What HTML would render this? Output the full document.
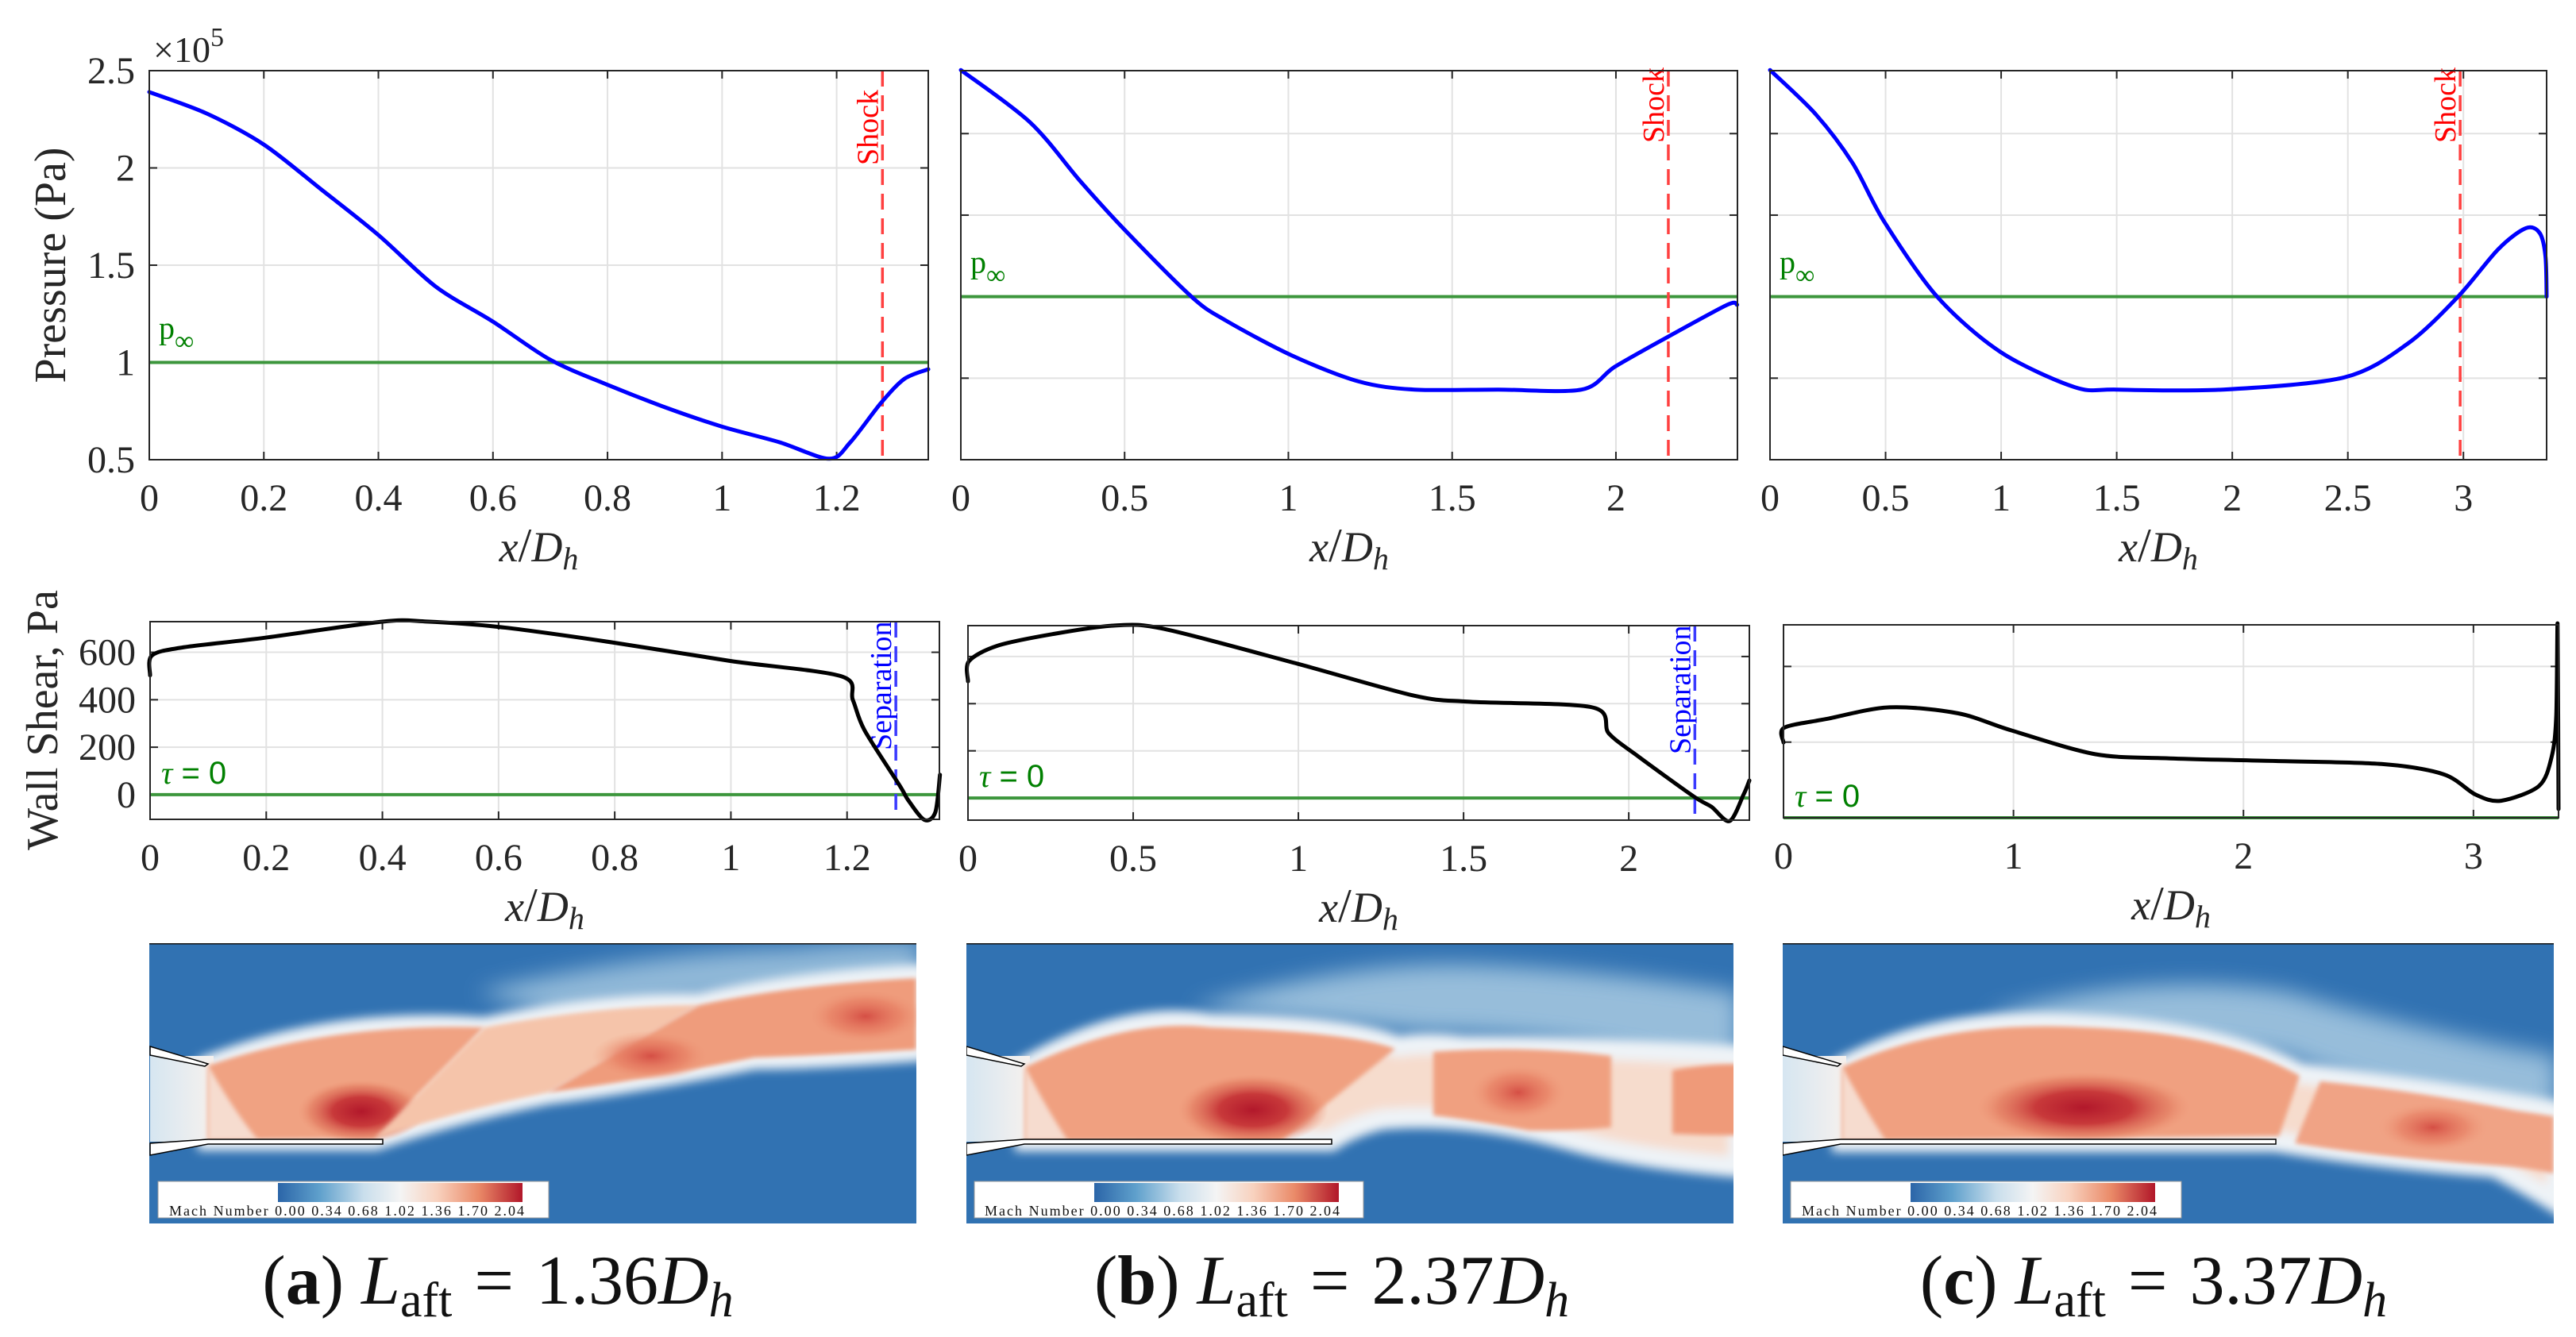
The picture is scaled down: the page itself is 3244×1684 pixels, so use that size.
<!DOCTYPE html>
<html><head><meta charset="utf-8">
<style>
html,body{margin:0;padding:0;background:#fff;}
svg{display:block;}
text{font-family:"Liberation Serif","DejaVu Serif",serif;}
</style></head>
<body>
<svg id="fig" xmlns="http://www.w3.org/2000/svg" width="3244" height="1684" viewBox="0 0 3244 1684" font-family="Liberation Serif, DejaVu Serif, serif">
<defs>
  <linearGradient id="cbar" x1="0" x2="1" y1="0" y2="0">
    <stop offset="0" stop-color="#2b65a8"/>
    <stop offset="0.17" stop-color="#5fa0cc"/>
    <stop offset="0.35" stop-color="#c9deec"/>
    <stop offset="0.5" stop-color="#f4f4f4"/>
    <stop offset="0.65" stop-color="#f8d2bf"/>
    <stop offset="0.82" stop-color="#ea8a68"/>
    <stop offset="1" stop-color="#b11729"/>
  </linearGradient>
  <radialGradient id="hot" cx="0.5" cy="0.5" r="0.5">
    <stop offset="0" stop-color="#b2182b"/>
    <stop offset="0.45" stop-color="#c8393a"/>
    <stop offset="0.8" stop-color="#e0755b" stop-opacity="0.6"/>
    <stop offset="1" stop-color="#ee9475" stop-opacity="0"/>
  </radialGradient>
  <radialGradient id="warm" cx="0.5" cy="0.5" r="0.5">
    <stop offset="0" stop-color="#d54f45"/>
    <stop offset="0.6" stop-color="#e67a5f" stop-opacity="0.6"/>
    <stop offset="1" stop-color="#f0a080" stop-opacity="0"/>
  </radialGradient>
  <linearGradient id="core" x1="0" x2="1" y1="0" y2="0">
    <stop offset="0" stop-color="#d6e6f1"/>
    <stop offset="1" stop-color="#f6f1ee"/>
  </linearGradient>
  <filter id="blurBig" x="-20%" y="-30%" width="140%" height="160%"><feGaussianBlur stdDeviation="14"/></filter>
  <filter id="blurMid" x="-20%" y="-30%" width="140%" height="160%"><feGaussianBlur stdDeviation="6"/></filter>
  <filter id="blurSm" x="-10%" y="-10%" width="120%" height="120%"><feGaussianBlur stdDeviation="3"/></filter>
  <clipPath id="clipA"><rect x="188" y="1188" width="966" height="353"/></clipPath>
  <clipPath id="clipB"><rect x="1217" y="1188" width="966" height="353"/></clipPath>
  <clipPath id="clipC"><rect x="2245" y="1188" width="971" height="353"/></clipPath>
</defs>

<!-- ===== Contour a ===== -->
<g clip-path="url(#clipA)">
  <rect x="188" y="1186" width="966" height="355" fill="#3172b2"/>
  <path d="M600,1250 Q800,1200 1000,1195 Q1080,1186 1160,1186 L1160,1250 Q900,1250 700,1280 Z" fill="#a9cbe2" opacity="0.8" filter="url(#blurBig)"/>
  <path d="M262,1342 Q420,1280 610,1294 Q760,1262 880,1264 Q1000,1236 1154,1228 L1154,1324 Q1020,1334 950,1334 Q800,1364 690,1378 Q580,1400 472,1436 L262,1436 Z" fill="#f4e2d8" stroke="#eef3f7" stroke-width="26" filter="url(#blurMid)"/>
  <rect x="189" y="1330" width="80" height="108" fill="url(#core)"/>
  <path d="M262,1342 Q420,1288 610,1294 L472,1434 L262,1436 Z" fill="#f0a282" filter="url(#blurSm)"/>
  <path d="M262,1342 Q295,1400 325,1436 L262,1436 Z" fill="#f6dccf" filter="url(#blurSm)"/>
  <ellipse cx="455" cy="1400" rx="80" ry="40" fill="url(#hot)"/>
  <path d="M610,1294 Q760,1266 880,1266 L690,1376 Q580,1398 472,1434 Z" fill="#f5c4aa" filter="url(#blurSm)"/>
  <path d="M880,1266 Q1000,1240 1154,1232 L1154,1322 Q1020,1330 950,1332 Q800,1362 690,1376 Z" fill="#ef9c7c" filter="url(#blurSm)"/>
  <ellipse cx="820" cy="1330" rx="75" ry="32" fill="url(#warm)"/>
  <ellipse cx="1090" cy="1280" rx="75" ry="35" fill="url(#warm)"/>
  <polygon points="189,1318 189,1329 258,1343 262,1340" fill="#fff" stroke="#000" stroke-width="1.5"/>
  <polygon points="189,1455 189,1440 262,1435 482,1435 482,1441 262,1441" fill="#fff" stroke="#000" stroke-width="1.5"/>
  <line x1="188" y1="1188" x2="1154" y2="1188" stroke="#111" stroke-width="3"/>
</g>

<!-- ===== Contour b ===== -->
<g clip-path="url(#clipB)">
  <rect x="1217" y="1186" width="966" height="355" fill="#3172b2"/>
  <path d="M1500,1270 Q1700,1210 1850,1215 Q2000,1220 2190,1250 L2190,1360 Q2000,1300 1800,1300 Z" fill="#a9cbe2" opacity="0.85" filter="url(#blurBig)"/>
  <path d="M1291,1344 Q1420,1270 1524,1290 Q1700,1292 1760,1318 Q1800,1312 1840,1318 Q2000,1318 2190,1330 L2190,1470 Q2060,1460 1977,1436 Q1850,1400 1740,1410 Q1700,1420 1676,1437 L1291,1437 Z" fill="#f6dccd" stroke="#eef3f7" stroke-width="26" filter="url(#blurMid)"/>
  <rect x="1217" y="1330" width="80" height="108" fill="url(#core)"/>
  <path d="M1291,1344 Q1420,1282 1524,1294 Q1700,1300 1757,1321 L1614,1436 L1291,1437 Z" fill="#f0a080" filter="url(#blurSm)"/>
  <path d="M1291,1344 Q1320,1400 1345,1437 L1291,1437 Z" fill="#f6dccf" filter="url(#blurSm)"/>
  <ellipse cx="1578" cy="1398" rx="95" ry="45" fill="url(#hot)"/>
  <path d="M1805,1325 Q1920,1316 2029,1330 L2029,1420 Q1970,1425 1925,1424 Q1850,1410 1805,1405 Z" fill="#f0a080" filter="url(#blurSm)"/>
  <ellipse cx="1912" cy="1376" rx="62" ry="36" fill="url(#warm)"/>
  <path d="M2106,1348 Q2150,1340 2190,1340 L2190,1430 Q2150,1430 2106,1428 Z" fill="#ef9a79" filter="url(#blurSm)"/>
  <polygon points="1217,1318 1217,1329 1286,1343 1290,1340" fill="#fff" stroke="#000" stroke-width="1.5"/>
  <polygon points="1217,1455 1217,1440 1290,1435 1677,1435 1677,1441 1290,1441" fill="#fff" stroke="#000" stroke-width="1.5"/>
  <line x1="1217" y1="1188" x2="2182" y2="1188" stroke="#111" stroke-width="3"/>
</g>

<!-- ===== Contour c ===== -->
<g clip-path="url(#clipC)">
  <rect x="2245" y="1186" width="971" height="355" fill="#3172b2"/>
  <path d="M2500,1280 Q2700,1220 2883,1250 Q3050,1300 3220,1330 L3220,1420 Q3000,1380 2880,1330 Z" fill="#a9cbe2" opacity="0.85" filter="url(#blurBig)"/>
  <path d="M2320,1344 Q2450,1276 2624,1290 Q2800,1300 2896,1352 Q3050,1370 3220,1400 L3220,1515 Q3180,1490 3142,1470 Q3000,1460 2866,1438 L2320,1438 Z" fill="#f6dccd" stroke="#eef3f7" stroke-width="26" filter="url(#blurMid)"/>
  <rect x="2245" y="1330" width="80" height="108" fill="url(#core)"/>
  <path d="M2320,1344 Q2450,1284 2624,1294 Q2800,1300 2896,1355 L2870,1431 L2320,1437 Z" fill="#f0a080" filter="url(#blurSm)"/>
  <path d="M2320,1344 Q2350,1400 2375,1437 L2320,1437 Z" fill="#f6dccf" filter="url(#blurSm)"/>
  <ellipse cx="2624" cy="1395" rx="135" ry="45" fill="url(#hot)"/>
  <path d="M2922,1362 Q3050,1375 3168,1399 L3216,1406 L3216,1478 Q3180,1470 3142,1468 Q3000,1458 2890,1440 Z" fill="#f0a385" filter="url(#blurSm)"/>
  <ellipse cx="3064" cy="1420" rx="70" ry="32" fill="url(#warm)"/>
  <polygon points="2245,1318 2245,1329 2314,1343 2318,1340" fill="#fff" stroke="#000" stroke-width="1.5"/>
  <polygon points="2245,1455 2245,1440 2318,1435 2866,1435 2866,1441 2318,1441" fill="#fff" stroke="#000" stroke-width="1.5"/>
  <line x1="2245" y1="1188" x2="3216" y2="1188" stroke="#111" stroke-width="3"/>
</g>

<!-- legends -->
<g>
  <rect x="199" y="1488" width="492" height="46" fill="#fff" stroke="#999" stroke-width="1"/>
  <rect x="350" y="1490" width="308" height="24" fill="url(#cbar)"/>
  <text x="213" y="1531" font-family="Liberation Mono, monospace" font-size="18" textLength="447" fill="#111">Mach Number 0.00 0.34 0.68 1.02 1.36 1.70 2.04</text>
</g>
<g>
  <rect x="1227" y="1488" width="490" height="46" fill="#fff" stroke="#999" stroke-width="1"/>
  <rect x="1378" y="1490" width="308" height="24" fill="url(#cbar)"/>
  <text x="1240" y="1531" font-family="Liberation Mono, monospace" font-size="18" textLength="447" fill="#111">Mach Number 0.00 0.34 0.68 1.02 1.36 1.70 2.04</text>
</g>
<g>
  <rect x="2255" y="1488" width="492" height="46" fill="#fff" stroke="#999" stroke-width="1"/>
  <rect x="2406" y="1490" width="308" height="24" fill="url(#cbar)"/>
  <text x="2269" y="1531" font-family="Liberation Mono, monospace" font-size="18" textLength="447" fill="#111">Mach Number 0.00 0.34 0.68 1.02 1.36 1.70 2.04</text>
</g>

<!-- captions -->
<text x="627" y="1642" font-size="88" text-anchor="middle" fill="#111">(<tspan font-weight="bold">a</tspan>) <tspan font-style="italic">L</tspan><tspan font-size="62" dy="16">aft</tspan><tspan dy="-16" dx="28">=</tspan><tspan dx="28">1.36</tspan><tspan font-style="italic">D</tspan><tspan font-style="italic" font-size="62" dy="16">h</tspan></text>
<text x="1677" y="1642" font-size="88" text-anchor="middle" fill="#111">(<tspan font-weight="bold">b</tspan>) <tspan font-style="italic">L</tspan><tspan font-size="62" dy="16">aft</tspan><tspan dy="-16" dx="28">=</tspan><tspan dx="28">2.37</tspan><tspan font-style="italic">D</tspan><tspan font-style="italic" font-size="62" dy="16">h</tspan></text>
<text x="2712" y="1642" font-size="88" text-anchor="middle" fill="#111">(<tspan font-weight="bold">c</tspan>) <tspan font-style="italic">L</tspan><tspan font-size="62" dy="16">aft</tspan><tspan dy="-16" dx="28">=</tspan><tspan dx="28">3.37</tspan><tspan font-style="italic">D</tspan><tspan font-style="italic" font-size="62" dy="16">h</tspan></text>

<g id="charts"></g>
</svg>

<script>
// ---------- data ----------
const pressA_x = [0,0.1,0.2,0.3,0.4,0.5,0.6,0.7,0.8,0.9,1.0,1.1,1.187,1.224,1.277,1.318,1.36];
const pressA_y = [2.39,2.28,2.12,1.89,1.655,1.39,1.21,1.014,0.885,0.77,0.67,0.59,0.505,0.59,0.79,0.915,0.965];
const pressB_x = [0,0.211,0.364,0.5,0.704,0.806,1.01,1.214,1.385,1.64,1.895,1.997,2.16,2.34,2.37];
const pressB_y = [2.39,2.07,1.71,1.41,1.0,0.857,0.64,0.48,0.43,0.43,0.43,0.57,0.755,0.95,0.95];
const pressC_x = [0,0.197,0.357,0.494,0.723,0.998,1.318,1.5,1.96,2.485,2.76,2.977,3.15,3.27,3.33,3.355,3.36];
const pressC_y = [2.39,2.12,1.82,1.46,1.0,0.66,0.445,0.43,0.43,0.505,0.713,1.0,1.29,1.42,1.39,1.25,1.0];
const shearA_x = [0,0.003,0.055,0.197,0.40,0.473,0.6,0.8,1.0,1.19,1.21,1.23,1.29,1.305,1.333,1.352,1.36];
const shearA_y = [503,586,620,661,729,730,707,640,563,499,399,272,41,-22,-106,-74,84];
const shearB_x = [0,0.003,0.088,0.256,0.44,0.594,0.998,1.35,1.52,1.89,1.94,2.03,2.196,2.25,2.305,2.347,2.365];
const shearB_y = [495,580,645,695,731,717,569,434,408,384,273,175,7,-37,-98,13,74];
const shearC_x = [0,0.003,0.186,0.461,0.76,0.99,1.357,1.68,2.14,2.6,2.87,3.01,3.12,3.285,3.34,3.36,3.366,3.37];
const shearC_y = [199,238,261,292,276,231,168,157,150,142,115,61,45,84,161,268,510,23];
const pTicksA = [0.5,1,1.5,2,2.5];
const pTickLabelsA = ["0.5","1","1.5","2","2.5"];
const pTicksBC = [0.5,1,1.5,2];
const xTicksA = [0,0.2,0.4,0.6,0.8,1,1.2];
const xTickLabelsA = ["0","0.2","0.4","0.6","0.8","1","1.2"];
const xTicksB = [0,0.5,1,1.5,2];
const xTickLabelsB = ["0","0.5","1","1.5","2"];
const xTicksC = [0,0.5,1,1.5,2,2.5,3];
const xTickLabelsC = ["0","0.5","1","1.5","2","2.5","3"];
const xTicksShearC = [0,1,2,3];
const xTickLabelsShearC = ["0","1","2","3"];
const sTicksAB = [0,200,400,600];
const sTickLabelsA = ["0","200","400","600"];
const sTicksC = [0,200,400];
const shockX = [1.28,2.16,2.986];
const sepX = [1.284,2.2];
const pInf = [1.0,1.0,1.0];

// ---------- helpers ----------
const NS = "http://www.w3.org/2000/svg";
const root = document.getElementById('charts');
function mk(tag, attrs, parent){
  const e = document.createElementNS(NS, tag);
  for (const k in attrs) e.setAttribute(k, attrs[k]);
  (parent||root).appendChild(e);
  return e;
}
function smoothPath(pts){
  let d = "M" + pts[0][0].toFixed(1) + "," + pts[0][1].toFixed(1);
  for (let i=0;i<pts.length-1;i++){
    const p0 = pts[Math.max(0,i-1)], p1 = pts[i], p2 = pts[i+1], p3 = pts[Math.min(pts.length-1,i+2)];
    const t = 0.15;
    const c1 = [p1[0]+(p2[0]-p0[0])*t, p1[1]+(p2[1]-p0[1])*t];
    const c2 = [p2[0]-(p3[0]-p1[0])*t, p2[1]-(p3[1]-p1[1])*t];
    d += " C"+c1[0].toFixed(1)+","+c1[1].toFixed(1)+" "+c2[0].toFixed(1)+","+c2[1].toFixed(1)+" "+p2[0].toFixed(1)+","+p2[1].toFixed(1);
  }
  return d;
}

function makeAxes(cfg){
  const g = mk('g', {});
  
  
  const sx = v => cfg.L + (v - cfg.xmin)/(cfg.xmax - cfg.xmin)*(cfg.R - cfg.L);
  const sy = v => cfg.B - (v - cfg.ymin)/(cfg.ymax - cfg.ymin)*(cfg.B - cfg.T);
  mk('rect', {x:cfg.L, y:cfg.T, width:cfg.R-cfg.L, height:cfg.B-cfg.T, fill:'#fff'}, g);
  cfg.xticks.forEach(v => {
    const x = sx(v);
    const gl = mk('line', {x1:x, x2:x, y1:cfg.T, y2:cfg.B, stroke:'#e2e2e2', 'stroke-width':2}, g);
    
    
    mk('line', {x1:x, x2:x, y1:cfg.B, y2:cfg.B-10, stroke:'#262626', 'stroke-width':2}, g);
    mk('line', {x1:x, x2:x, y1:cfg.T, y2:cfg.T+10, stroke:'#262626', 'stroke-width':2}, g);
  });
  cfg.yticks.forEach(v => {
    const y = sy(v);
    const gl = mk('line', {x1:cfg.L, x2:cfg.R, y1:y, y2:y, stroke:'#e2e2e2', 'stroke-width':2}, g);
    
    
    mk('line', {x1:cfg.L, x2:cfg.L+10, y1:y, y2:y, stroke:'#262626', 'stroke-width':2}, g);
    mk('line', {x1:cfg.R, x2:cfg.R-10, y1:y, y2:y, stroke:'#262626', 'stroke-width':2}, g);
  });
  cfg.xticks.forEach((v,i) => {
    const t = mk('text', {x:sx(v), y:cfg.B+64, 'font-size':48, 'text-anchor':'middle', fill:'#262626', 'font-family':'Liberation Serif, serif'}, g);
    
    
    t.textContent = cfg.xlabels[i];
  });
  if (cfg.ylabels){
    cfg.yticks.forEach((v,i) => {
      const t = mk('text', {x:cfg.L-18, y:sy(v)+16, 'font-size':48, 'text-anchor':'end', fill:'#262626', 'font-family':'Liberation Serif, serif'}, g);
      
      
      t.textContent = cfg.ylabels[i];
    });
  }
  const xl = mk('text', {x:(cfg.L+cfg.R)/2, y:cfg.B+128, 'font-size':54, 'text-anchor':'middle', fill:'#262626', 'font-style':'italic', 'font-family':'Liberation Serif, serif'}, g);
  
  
  xl.innerHTML = 'x<tspan font-style="normal" font-size="60">/</tspan>D<tspan font-size="40" dy="10">h</tspan>';
  return {g, sx, sy};
}

// ---------- pressure plots ----------
const pCfg = [
  {name:'pressure-plot-a', L:188, R:1169, T:89, B:579, xmin:0, xmax:1.36, ymin:0.5, ymax:2.5, xticks:xTicksA, xlabels:xTickLabelsA, yticks:pTicksA, ylabels:pTickLabelsA, xs:pressA_x, ys:pressA_y, shockLabelBottom:208},
  {name:'pressure-plot-b', L:1210, R:2188, T:89, B:579, xmin:0, xmax:2.371, ymin:0, ymax:2.386, xticks:xTicksB, xlabels:xTickLabelsB, yticks:pTicksBC, ylabels:null, xs:pressB_x, ys:pressB_y, shockLabelBottom:180},
  {name:'pressure-plot-c', L:2229, R:3207, T:89, B:579, xmin:0, xmax:3.36, ymin:0, ymax:2.386, xticks:xTicksC, xlabels:xTickLabelsC, yticks:pTicksBC, ylabels:null, xs:pressC_x, ys:pressC_y, shockLabelBottom:180}
];
pCfg.forEach((cfg, k) => {
  const ax = makeAxes(cfg);
  const g = ax.g;
  const yInf = ax.sy(pInf[k]);
  const gl = mk('line', {x1:cfg.L, x2:cfg.R, y1:yInf, y2:yInf, stroke:'#3c963c', 'stroke-width':4}, g);
  
  
  const pl = mk('text', {x:cfg.L+12, y:yInf-30, 'font-size':40, fill:'#008000', 'font-family':'Liberation Sans, sans-serif'}, g);
  
  
  pl.innerHTML = 'p<tspan font-size="34" dy="14">∞</tspan>';
  const sx = ax.sx(shockX[k]);
  const sl = mk('line', {x1:sx, x2:sx, y1:cfg.T, y2:cfg.B, stroke:'#ff4040', 'stroke-width':3.5, 'stroke-dasharray':'20 11'}, g);
  
  
  const st = mk('text', {x:0, y:0, 'font-size':38, fill:'#ff0000', 'font-family':'Liberation Serif, serif', transform:'translate('+(sx-6)+','+cfg.shockLabelBottom+') rotate(-90)'}, g);
  
  
  st.textContent = 'Shock';
  const pts = cfg.xs.map((x,i) => [ax.sx(x), ax.sy(cfg.ys[i])]);
  const c = mk('path', {d:smoothPath(pts), fill:'none', stroke:'#0000ff', 'stroke-width':5, 'stroke-linejoin':'round', 'stroke-linecap':'round'}, g);
  
  
  mk('rect', {x:cfg.L, y:cfg.T, width:cfg.R-cfg.L, height:cfg.B-cfg.T, fill:'none', stroke:'#262626', 'stroke-width':2}, g);
});

// ---------- shear plots ----------
const sCfg = [
  {name:'shear-plot-a', L:189, R:1183, T:783, B:1032, xmin:0, xmax:1.359, ymin:-104, ymax:729, xticks:xTicksA, xlabels:xTickLabelsA, yticks:sTicksAB, ylabels:sTickLabelsA, xs:shearA_x, ys:shearA_y, sepBottom:945},
  {name:'shear-plot-b', L:1219, R:2203, T:788, B:1033, xmin:0, xmax:2.365, ymin:-94, ymax:731, xticks:xTicksB, xlabels:xTickLabelsB, yticks:sTicksAB, ylabels:null, xs:shearB_x, ys:shearB_y, sepBottom:950},
  {name:'shear-plot-c', L:2246, R:3222, T:787, B:1030, xmin:0, xmax:3.37, ymin:0, ymax:510, xticks:xTicksShearC, xlabels:xTickLabelsShearC, yticks:sTicksC, ylabels:null, xs:shearC_x, ys:shearC_y, sepBottom:null}
];
sCfg.forEach((cfg, k) => {
  const ax = makeAxes(cfg);
  const g = ax.g;
  const y0 = ax.sy(0);
  const gl = mk('line', {x1:cfg.L, x2:cfg.R, y1:y0, y2:y0, stroke:'#3c963c', 'stroke-width':4}, g);
  
  
  const tl = mk('text', {x:cfg.L+14, y:y0-14, 'font-size':40, fill:'#008000'}, g);
  
  
  tl.innerHTML = '<tspan font-style="italic">τ</tspan><tspan font-family="Liberation Sans, sans-serif"> = 0</tspan>';
  if (k < sepX.length && cfg.sepBottom){
    const x = ax.sx(sepX[k]);
    const sl = mk('line', {x1:x, x2:x, y1:cfg.T, y2:cfg.B, stroke:'#3a3aff', 'stroke-width':3.5, 'stroke-dasharray':'20 11'}, g);
    
    
    const st = mk('text', {x:0, y:0, 'font-size':38, fill:'#0000ff', 'font-family':'Liberation Serif, serif', transform:'translate('+(x-6)+','+cfg.sepBottom+') rotate(-90)'}, g);
    
    
    st.textContent = 'Separation';
  }
  const pts = cfg.xs.map((x,i) => [ax.sx(x), ax.sy(cfg.ys[i])]);
  const c = mk('path', {d:smoothPath(pts), fill:'none', stroke:'#000', 'stroke-width':5, 'stroke-linejoin':'round', 'stroke-linecap':'round'}, g);
  
  
  mk('rect', {x:cfg.L, y:cfg.T, width:cfg.R-cfg.L, height:cfg.B-cfg.T, fill:'none', stroke:'#262626', 'stroke-width':2}, g);
});

// axis titles
const yt1 = mk('text', {x:0, y:0, 'font-size':56, 'text-anchor':'middle', fill:'#262626', 'font-family':'Liberation Serif, serif', transform:'translate(82,334) rotate(-90)'});


yt1.textContent = 'Pressure (Pa)';
const yt2 = mk('text', {x:0, y:0, 'font-size':56, 'text-anchor':'middle', fill:'#262626', 'font-family':'Liberation Serif, serif', transform:'translate(72,907) rotate(-90)'});


yt2.textContent = 'Wall Shear, Pa';
const ex = mk('text', {x:193, y:78, 'font-size':46, fill:'#262626', 'font-family':'Liberation Serif, serif'});


ex.innerHTML = '×10<tspan font-size="34" dy="-20">5</tspan>';
</script>
</body></html>
